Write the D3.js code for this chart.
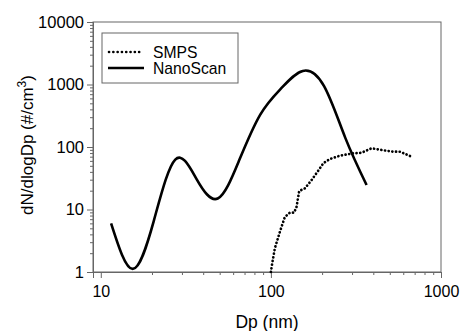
<!DOCTYPE html>
<html>
<head>
<meta charset="utf-8">
<script src="https://cdn.jsdelivr.net/npm/d3@7"></script>
<style>
  body { margin: 0; background: #fff; }
  text { font-family: "Liberation Sans", Arial, sans-serif; fill: #000; }
</style>
</head>
<body>
<svg id="chart" width="461" height="331"></svg>
<script>
// SMPS size distribution (Dp nm, dN/dlogDp)
const smpsDp = [100, 101.8, 105.6, 113, 120.8, 129.3, 137, 141.6, 146.7, 158.5, 173.5, 192.4, 203, 222.4, 254.6, 304.8, 341.7, 391, 448, 524, 574, 657];
const smpsN = [1, 1.38, 2.42, 4.41, 7.59, 8.89, 8.9, 11.1, 19.8, 21.8, 29.6, 44, 54.8, 64.3, 72.6, 79.3, 81.1, 95.3, 89.5, 84.1, 84, 71.8];

// NanoScan channels
const nanoDp = [11.5, 15.4, 20.5, 27.4, 36.5, 48.7, 64.9, 86.6, 115.5, 154, 205.4, 273.8, 365.2];
const nanoN = [6.0, 1.12, 6.6, 63, 31, 15, 60, 330, 880, 1650, 940, 140, 24.7];

const xTicks = [10, 100, 1000];
const yTicks = [1, 10, 100, 1000, 10000];

const margin = { left: 93, top: 22, right: 20, bottom: 59 };
const width = 461, height = 331;

const svg = d3.select('#chart');

const x = d3.scaleLog().domain([9, 1000]).range([margin.left, width - margin.right]);
const y = d3.scaleLog().domain([1, 10000]).range([height - margin.bottom, margin.top]);

const axisColor = '#666';

// minor tick values
const minorX = [];
for (let d = 10; d < 1000; d *= 10) for (let k = 2; k <= 9; k++) minorX.push(d * k);
minorX.push(9);
const minorY = [];
for (let d = 1; d < 10000; d *= 10) for (let k = 2; k <= 9; k++) minorY.push(d * k);

// frame
svg.append('rect')
  .attr('x', margin.left).attr('y', margin.top)
  .attr('width', x.range()[1] - margin.left)
  .attr('height', y.range()[0] - margin.top)
  .attr('fill', 'none').attr('stroke', axisColor).attr('stroke-width', 1);

// x axis
const gx = svg.append('g').attr('transform', `translate(0,${y.range()[0]})`);
gx.call(d3.axisBottom(x).tickValues(minorX).tickSize(3).tickFormat(''));
gx.call(g => g.append('g').call(d3.axisBottom(x).tickValues(xTicks).tickSize(6).tickFormat(d3.format('d'))));
gx.selectAll('.domain').attr('stroke', axisColor);
gx.selectAll('line').attr('stroke', axisColor);
gx.selectAll('text').attr('font-size', 16).attr('dy', '1.0em').style('fill', '#000');

// y axis
const gy = svg.append('g').attr('transform', `translate(${margin.left},0)`);
gy.call(d3.axisLeft(y).tickValues(minorY).tickSize(3).tickFormat(''));
gy.call(g => g.append('g').call(d3.axisLeft(y).tickValues(yTicks).tickSize(6).tickFormat(d3.format('d'))));
gy.selectAll('.domain').attr('stroke', axisColor);
gy.selectAll('line').attr('stroke', axisColor);
gy.selectAll('text').attr('font-size', 16.5).attr('x', -9).style('fill', '#000');

// axis titles
svg.append('text')
  .attr('x', (x.range()[0] + x.range()[1]) / 2)
  .attr('y', 328)
  .attr('text-anchor', 'middle')
  .attr('font-size', 17.5)
  .text('Dp (nm)');

const yt = svg.append('text')
  .attr('transform', `translate(33,145) rotate(-90)`)
  .attr('text-anchor', 'middle')
  .attr('font-size', 17);
yt.append('tspan').text('dN/dlogDp (#/cm');
yt.append('tspan').attr('font-size', 12).attr('dy', -7).text('3');
yt.append('tspan').attr('dy', 7).text(')');

// curves
const smpsData = smpsDp.map((d, i) => [d, smpsN[i]]);
const nanoData = nanoDp.map((d, i) => [d, nanoN[i]]);

const smpsLine = d3.line().x(d => x(d[0])).y(d => y(d[1]));
const nanoLine = d3.line().x(d => x(d[0])).y(d => y(d[1])).curve(d3.curveNatural);

svg.append('path')
  .datum(nanoData)
  .attr('d', nanoLine)
  .attr('fill', 'none')
  .attr('stroke', '#000')
  .attr('stroke-width', 2.6);

svg.append('path')
  .datum(smpsData)
  .attr('d', smpsLine)
  .attr('fill', 'none')
  .attr('stroke', '#000')
  .attr('stroke-width', 2.7)
  .attr('stroke-linecap', 'round')
  .attr('stroke-dasharray', '0.1,3.6');

// legend
const lg = svg.append('g');
lg.append('rect')
  .attr('x', 102).attr('y', 33).attr('width', 136).attr('height', 50)
  .attr('fill', '#fff').attr('stroke', axisColor).attr('stroke-width', 1);
lg.append('line')
  .attr('x1', 109).attr('x2', 143).attr('y1', 52).attr('y2', 52)
  .attr('stroke', '#000').attr('stroke-width', 2.6)
  .attr('stroke-linecap', 'round').attr('stroke-dasharray', '0.1,4.2');
lg.append('line')
  .attr('x1', 108).attr('x2', 144).attr('y1', 68).attr('y2', 68)
  .attr('stroke', '#000').attr('stroke-width', 2.6);
lg.append('text').attr('x', 153).attr('y', 57.5).attr('font-size', 15.7).text('SMPS');
lg.append('text').attr('x', 153).attr('y', 74).attr('font-size', 15.7).text('NanoScan');
</script>
</body>
</html>
